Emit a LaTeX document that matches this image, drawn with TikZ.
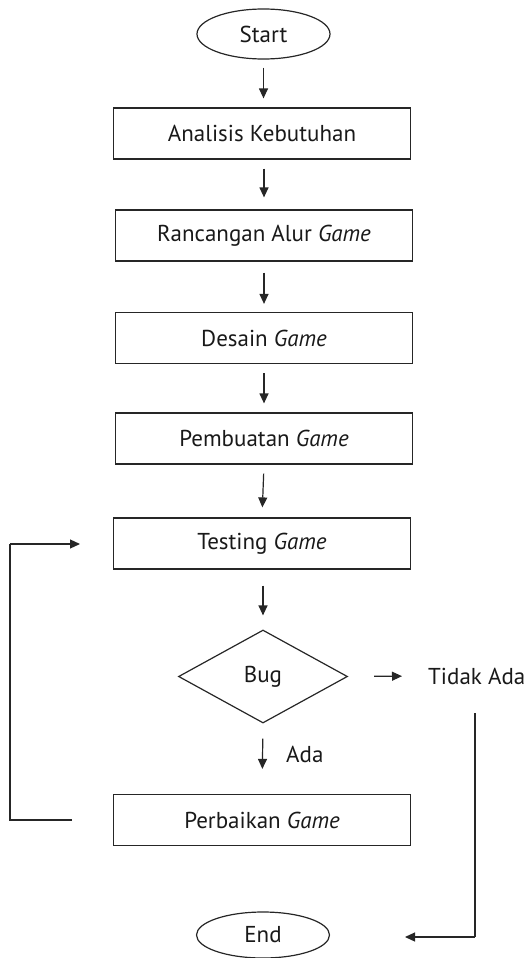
\documentclass[tikz,border=0pt]{standalone}
\usepackage{fontspec}
\setmainfont{PT Sans}
\usetikzlibrary{arrows.meta,shapes.geometric}
\begin{document}
\begin{tikzpicture}[x=1pt,y=-1pt,
  every node/.style={font=\fontsize{23}{26}\selectfont, text=black!90},
  line/.style={draw=black!85, line width=1.2pt},
  arr/.style={line, -{Triangle[length=10pt,width=9pt]}},
  procbox/.style={line, rectangle, minimum width=297pt, minimum height=51pt, inner sep=0pt},
  term/.style={line, ellipse, minimum width=133pt, minimum height=50pt, inner sep=0pt},
  decision/.style={line, diamond, minimum width=169pt, minimum height=93pt, aspect=1.82, inner sep=0pt},
  lbl/.style={inner sep=0pt}]
\useasboundingbox (0,0) rectangle (527,958);
\node[term] (start) at (263.5,34) {Start};
\node[procbox] (b1) at (262,133.5) {Analisis Kebutuhan};
\node[procbox] (b2) at (264,235.5) {Rancangan Alur \textit{Game}};
\node[procbox] (b3) at (264,338) {Desain \textit{Game}};
\node[procbox] (b4) at (264,438.5) {Pembuatan \textit{Game}};
\node[procbox] (b5) at (262,543.5) {Testing \textit{Game}};
\node[decision] (bug) at (263,676.5) {Bug};
\node[procbox] (b6) at (262,820) {Perbaikan \textit{Game}};
\node[term, minimum height=46pt] (end) at (263,935) {End};
\node[lbl, anchor=west] (tidak) at (428,676) {Tidak Ada};
\node[lbl, anchor=west] (ada) at (286,754) {Ada};
\coordinate (lp1) at (72,820);
\coordinate (lp2) at (10,820);
\coordinate (lp3) at (10,544);
\coordinate (lp4) at (80,544);
\coordinate (r1) at (475,713);
\coordinate (r2) at (475,937);
\coordinate (r3) at (405,937);
\draw[arr, shorten <=8pt, shorten >=9pt] (start.south) -- (start.south |- b1.north);
\draw[arr, shorten <=9pt, shorten >=12pt] ([xshift=2pt]b1.south) -- (b2.north);
\draw[arr, shorten <=11pt, shorten >=8pt] (b2.south) -- (b3.north);
\draw[arr, shorten <=9pt, shorten >=9pt] (b3.south) -- (b4.north);
\draw[arr, shorten <=9pt, shorten >=10pt] (b4.south) -- (b5.north);
\draw[arr, shorten <=16pt, shorten >=14pt] ([xshift=1pt]b5.south) -- (bug.north);
\draw[arr, shorten <=15pt, shorten >=25pt] (bug.south) -- (b6.north);
\draw[arr, shorten <=26pt, shorten >=26pt] (bug.east) -- (tidak.west);
\draw[line] (lp1) -- (lp2) -- (lp3);
\draw[arr] (lp3) -- (lp4);
\draw[line] (r1) -- (r2);
\draw[arr] (r2) -- (r3);
\end{tikzpicture}
\end{document}
